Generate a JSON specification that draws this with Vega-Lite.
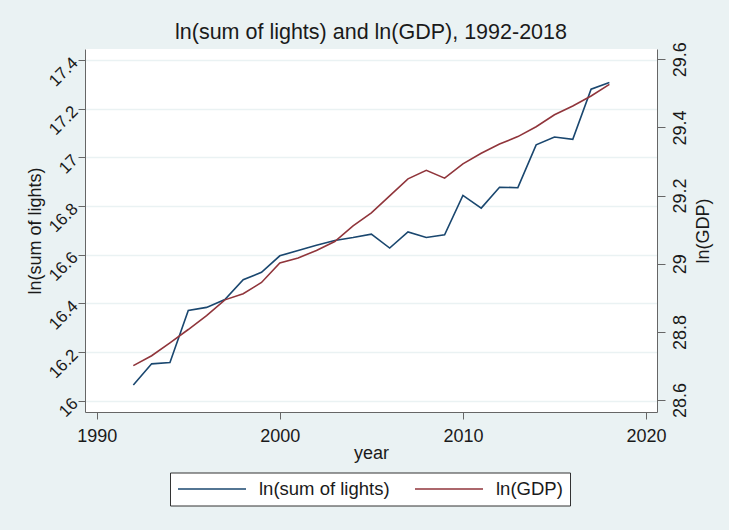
{
  "$schema": "https://vega.github.io/schema/vega-lite/v6.json",
  "width": 572,
  "height": 363,
  "autosize": "none",
  "padding": {"left": 85, "top": 49, "right": 72, "bottom": 118},
  "background": "#EAF2F3",
  "config": {
    "font": "Liberation Sans",
    "view": {"fill": "white", "stroke": null},
    "axis": {
      "labelFont": "Liberation Sans",
      "titleFont": "Liberation Sans",
      "labelColor": "#1a1a1a",
      "titleColor": "#1a1a1a",
      "titleFontWeight": "normal",
      "domainColor": "#666666",
      "tickColor": "#666666",
      "domainWidth": 1,
      "tickWidth": 1
    },
    "title": {"font": "Liberation Sans", "fontWeight": "normal", "color": "#1a1a1a"}
  },
  "title": {
    "text": "ln(sum of lights) and ln(GDP), 1992-2018",
    "fontSize": 21.5,
    "anchor": "middle",
    "frame": "group",
    "baseline": "alphabetic",
    "offset": 9.5,
    "dy": 28
  },
  "data": {
    "values": [
      {"year": 1992, "lights": 16.064, "gdp": 28.701},
      {"year": 1993, "lights": 16.151, "gdp": 28.730},
      {"year": 1994, "lights": 16.156, "gdp": 28.768},
      {"year": 1995, "lights": 16.370, "gdp": 28.807},
      {"year": 1996, "lights": 16.383, "gdp": 28.848},
      {"year": 1997, "lights": 16.415, "gdp": 28.894},
      {"year": 1998, "lights": 16.497, "gdp": 28.912},
      {"year": 1999, "lights": 16.527, "gdp": 28.945},
      {"year": 2000, "lights": 16.595, "gdp": 29.002},
      {"year": 2001, "lights": 16.617, "gdp": 29.017},
      {"year": 2002, "lights": 16.638, "gdp": 29.039},
      {"year": 2003, "lights": 16.658, "gdp": 29.065},
      {"year": 2004, "lights": 16.670, "gdp": 29.111},
      {"year": 2005, "lights": 16.684, "gdp": 29.149},
      {"year": 2006, "lights": 16.627, "gdp": 29.199},
      {"year": 2007, "lights": 16.693, "gdp": 29.249},
      {"year": 2008, "lights": 16.670, "gdp": 29.274},
      {"year": 2009, "lights": 16.681, "gdp": 29.251},
      {"year": 2010, "lights": 16.843, "gdp": 29.293},
      {"year": 2011, "lights": 16.791, "gdp": 29.324},
      {"year": 2012, "lights": 16.877, "gdp": 29.351},
      {"year": 2013, "lights": 16.875, "gdp": 29.373},
      {"year": 2014, "lights": 17.051, "gdp": 29.402},
      {"year": 2015, "lights": 17.083, "gdp": 29.437},
      {"year": 2016, "lights": 17.074, "gdp": 29.463},
      {"year": 2017, "lights": 17.280, "gdp": 29.492},
      {"year": 2018, "lights": 17.307, "gdp": 29.526}
    ]
  },
  "encoding": {
    "x": {
      "field": "year",
      "type": "quantitative",
      "scale": {"domain": [1989.36, 2020.6], "nice": false, "zero": false},
      "axis": {
        "values": [1990, 2000, 2010, 2020],
        "format": "d",
        "grid": false,
        "labelFontSize": 18,
        "tickSize": 7,
        "labelPadding": 8,
        "title": "year",
        "titleFontSize": 18,
        "titleBaseline": "alphabetic",
        "titleAnchor": "middle",
        "titleY": 46.5
      }
    },
    "color": {
      "datum": "ln(sum of lights)",
      "type": "nominal",
      "scale": {"domain": ["ln(sum of lights)", "ln(GDP)"], "range": ["#1A476F", "#90353B"]},
      "legend": {
        "title": null,
        "orient": "none",
        "legendX": 85,
        "legendY": 423.5,
        "direction": "horizontal",
        "padding": 7,
        "strokeColor": "#333333",
        "fillColor": "white",
        "symbolType": "stroke",
        "symbolSize": 4624,
        "symbolStrokeWidth": 1.5,
        "labelFontSize": 18.5,
        "labelFont": "Liberation Sans",
        "labelColor": "#1a1a1a",
        "labelOffset": 12,
        "columnPadding": 24,
        "clipHeight": 19
      }
    }
  },
  "layer": [
    {
      "mark": {"type": "line", "strokeWidth": 1.6},
      "encoding": {
        "y": {
          "field": "lights",
          "type": "quantitative",
          "scale": {"domain": [15.953, 17.445], "nice": false, "zero": false},
          "axis": {
            "orient": "left",
            "values": [16, 16.2, 16.4, 16.6, 16.8, 17, 17.2, 17.4],
            "format": "~g",
            "grid": true,
            "gridColor": "#EAF2F3",
            "gridWidth": 1.5,
            "labelAngle": -45,
            "labelAlign": "right",
            "labelBaseline": "middle",
            "labelFontSize": 17,
            "tickSize": 7,
            "labelPadding": 3,
            "title": "ln(sum of lights)",
            "titleFontSize": 18,
            "titleAngle": 270,
            "titleBaseline": "middle",
            "titleAlign": "center",
            "titleX": -50,
            "titleY": 181.5
          }
        }
      }
    },
    {
      "mark": {"type": "line", "strokeWidth": 1.6},
      "encoding": {
        "y": {
          "field": "gdp",
          "type": "quantitative",
          "scale": {"domain": [28.565, 29.63], "nice": false, "zero": false},
          "axis": {
            "orient": "right",
            "values": [28.6, 28.8, 29, 29.2, 29.4, 29.6],
            "format": "~g",
            "grid": false,
            "labelAngle": 270,
            "labelAlign": "center",
            "labelBaseline": "top",
            "labelFontSize": 18,
            "tickSize": 8,
            "labelPadding": 6,
            "title": "ln(GDP)",
            "titleFontSize": 18,
            "titleAngle": 270,
            "titleBaseline": "middle",
            "titleAlign": "center",
            "titleX": 46,
            "titleY": 181.5
          }
        },
        "color": {"datum": "ln(GDP)", "type": "nominal"}
      }
    }
  ],
  "resolve": {"scale": {"y": "independent"}}
}
